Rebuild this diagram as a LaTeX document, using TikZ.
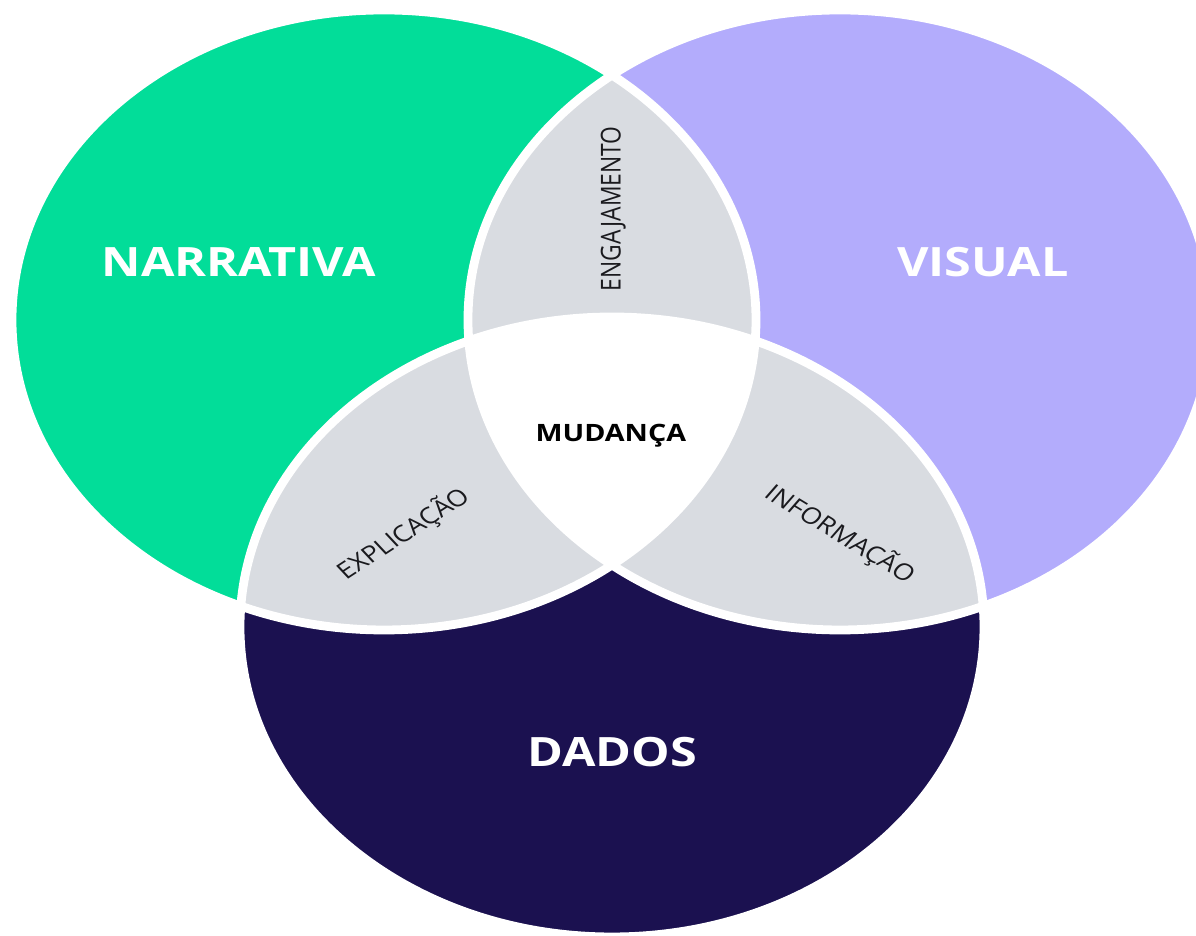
\documentclass[tikz,border=0pt]{standalone}
\usepackage{fontspec}
\setmainfont{Open Sans}
\usepackage{tikz}
\usetikzlibrary{positioning}

\definecolor{narrativagreen}{RGB}{2,221,153}
\definecolor{visualpurple}{RGB}{179,172,252}
\definecolor{dadosnavy}{RGB}{27,17,80}
\definecolor{overlapgray}{RGB}{217,220,225}
\definecolor{labelink}{RGB}{26,26,30}

\newcommand{\narrativaset}{(3.20,6.16) circle (3.10)}
\newcommand{\visualset}{(7.00,6.16) circle (3.10)}
\newcommand{\dadosset}{(5.10,3.09) circle (3.10)}

\begin{document}
\begin{tikzpicture}[
    xscale=1.2,
    every node/.style={transform shape},
    outline/.style={draw=white, line width=2.5pt},
    overlap/.style={fill=overlapgray},
    bigname/.style={font=\fontsize{11.5pt}{13pt}\selectfont\bfseries, text=white, inner sep=0pt},
    pairname/.style={font=\fontsize{6.5pt}{8pt}\selectfont, text=labelink, inner sep=0pt},
    centrename/.style={font=\fontsize{6.8pt}{8pt}\selectfont\bfseries, text=black, inner sep=0pt}
]
\useasboundingbox (0,0) rectangle (9.967,9.36);

% the three sets
\fill[narrativagreen] \narrativaset;
\fill[visualpurple] \visualset;
\fill[dadosnavy] \dadosset;

% pairwise overlaps
\begin{scope}
  \clip \narrativaset;
  \fill[overlap] \visualset;
  \fill[overlap] \dadosset;
\end{scope}
\begin{scope}
  \clip \visualset;
  \fill[overlap] \dadosset;
\end{scope}

% triple overlap
\begin{scope}
  \clip \narrativaset;
  \clip \visualset;
  \fill[white] \dadosset;
\end{scope}

% white borders
\draw[outline] \narrativaset;
\draw[outline] \visualset;
\draw[outline] \dadosset;

% set names
\node[bigname] (narrativa) at (1.99,6.74) {NARRATIVA};
\node[bigname] (visual) at (8.19,6.74) {VISUAL};
\node[bigname] (dados) at (5.10,1.84) {DADOS};

% overlap names
\node[pairname, rotate=90] (engajamento) at (5.11,7.27) {ENGAJAMENTO};
\node[pairname, rotate=38] (explicacao) at (3.36,4.02) {EXPLICAÇÃO};
\node[pairname, rotate=-36] (informacao) at (7.00,4.02) {INFORMAÇÃO};
\node[centrename] (mudanca) at (5.09,5.00) {MUDANÇA};

\end{tikzpicture}
\end{document}
